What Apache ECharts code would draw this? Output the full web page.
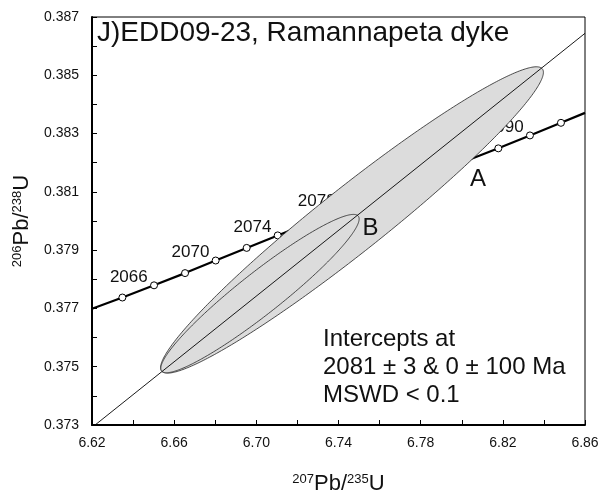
<!DOCTYPE html>
<html><head><meta charset="utf-8">
<script src="https://cdn.jsdelivr.net/npm/echarts@6/dist/echarts.min.js"></script>
<style>html,body{margin:0;padding:0;background:#fff}#c{width:609px;height:500px}</style>
</head><body><div id="c"></div>
<script>
// ---- data ----
const xTicks = [6.62, 6.66, 6.70, 6.74, 6.78, 6.82, 6.86];
const yTicks = [0.373, 0.375, 0.377, 0.379, 0.381, 0.383, 0.385, 0.387];

// concordia curve points (age in Ma; null = curve continuing to frame edge)
const concordiaAges = [null, 2064, 2066, 2068, 2070, 2072, 2074, 2078, 2088, 2090, 2092, null];
const concordiaX    = [6.6200, 6.6348, 6.6502, 6.6653, 6.6802, 6.6953, 6.7104, 6.7417, 6.8178, 6.8332, 6.8483, 6.8600];
const concordiaY    = [0.37699, 0.377374, 0.377793, 0.378212, 0.378644, 0.379077, 0.379506, 0.380395, 0.382493, 0.382936, 0.383369, 0.38371];
const labeledAges   = [2066, 2070, 2074, 2078, 2090];

// discordia (regression line) end points
const discordiaX = [6.6215, 6.8600];
const discordiaY = [0.3730, 0.38644];

// error ellipses: centre, half-widths, correlation
const ellipseNames = ['A', 'B'];
const ellipseX   = [6.74657, 6.70178];
const ellipseSX  = [0.09318, 0.04827];
const ellipseY   = [0.380036, 0.37751];
const ellipseSY  = [0.005256, 0.002716];
const ellipseRho = [0.9634, 0.9427];

const titleText = 'J)EDD09-23, Ramannapeta dyke';
const interceptLines = ['Intercepts at', '2081 \u00b1 3 & 0 \u00b1 100 Ma', 'MSWD < 0.1'];

// ---- chart ----
const FONT = 'Liberation Sans, Arial, sans-serif';
const TXT = '#111';
const chart = echarts.init(document.getElementById('c'), null, {renderer: 'canvas'});

const concData = concordiaAges.map((age, i) => ({
  value: [concordiaX[i], concordiaY[i]],
  name: age == null ? '' : String(age),
  symbol: age == null ? 'none' : 'circle',
  label: {show: labeledAges.includes(age)}
}));

function axisCommon(ticks, digits, margin) {
  return {
    type: 'value',
    min: ticks[0],
    max: ticks[ticks.length - 1],
    interval: +(ticks[1] - ticks[0]).toFixed(6),
    axisLine: {show: true, onZero: false, lineStyle: {color: '#000', width: 2}},
    axisTick: {show: true, inside: true, length: 5, lineStyle: {color: '#000', width: 1}},
    minorTick: {show: true, splitNumber: 2, length: 5, lineStyle: {color: '#000', width: 1}},
    splitLine: {show: false},
    minorSplitLine: {show: false},
    axisLabel: {formatter: v => v.toFixed(digits), margin: margin, fontSize: 14,
      fontFamily: FONT, color: TXT, hideOverlap: false, showMinLabel: true, showMaxLabel: true},
    nameLocation: 'middle'
  };
}

const richName = {
  m: {fontSize: 22, fontFamily: FONT, color: TXT, lineHeight: 22},
  s: {fontSize: 13, fontFamily: FONT, color: TXT, verticalAlign: 'top', lineHeight: 13}
};

const option = {
  animation: false,
  backgroundColor: '#fff',
  grid: {left: 92, right: 24, top: 17, bottom: 72, show: true, borderColor: '#000', borderWidth: 1},
  xAxis: Object.assign(axisCommon(xTicks, 2, 11), {
    name: '{s|207}{m|Pb/}{s|235}{m|U}', nameGap: 48,
    nameTextStyle: {rich: richName}
  }),
  yAxis: Object.assign(axisCommon(yTicks, 3, 13), {
    name: '{s|206}{m|Pb/}{s|238}{m|U}', nameGap: 58, nameRotate: 90,
    nameTextStyle: {rich: richName}
  }),
  series: [
    {
      type: 'line', z: 2, data: concData,
      symbolSize: 7,
      itemStyle: {color: '#fff', borderColor: '#000', borderWidth: 1},
      lineStyle: {color: '#000', width: 2.2},
      label: {position: [-2.3, -4.1], align: 'right', verticalAlign: 'middle',
        formatter: p => p.name, fontSize: 17, fontFamily: FONT, color: TXT},
      emphasis: {disabled: true}, silent: true
    },
    {
      type: 'custom', z: 3, silent: true,
      data: ellipseNames.map((n, i) => [i]),
      renderItem: function (params, api) {
        const i = params.dataIndex;
        const pts = [];
        const k = Math.sqrt(1 - ellipseRho[i] * ellipseRho[i]);
        for (let j = 0; j < 360; j++) {
          const t = j / 360 * Math.PI * 2;
          const dx = ellipseSX[i] * Math.cos(t);
          const dy = ellipseSY[i] * (ellipseRho[i] * Math.cos(t) + k * Math.sin(t));
          pts.push(api.coord([ellipseX[i] + dx, ellipseY[i] + dy]));
        }
        return {type: 'polygon', shape: {points: pts},
          style: {fill: '#dcdcdc', stroke: '#222', lineWidth: 0.8}};
      }
    },
    {
      type: 'line', z: 4, silent: true, symbol: 'none',
      data: discordiaX.map((x, i) => [x, discordiaY[i]]),
      lineStyle: {color: '#000', width: 0.9}
    }
  ],
  graphic: [
    {type: 'text', x: 97, y: 33.5, z: 10,
      style: {text: titleText, font: '28px ' + FONT, fill: TXT, align: 'left', verticalAlign: 'middle'}},
    {type: 'text', x: 478, y: 179, z: 10,
      style: {text: ellipseNames[0], font: '24px ' + FONT, fill: TXT, align: 'center', verticalAlign: 'middle'}},
    {type: 'text', x: 370.5, y: 228.5, z: 10,
      style: {text: ellipseNames[1], font: '24px ' + FONT, fill: TXT, align: 'center', verticalAlign: 'middle'}},
    {type: 'text', x: 323, y: 367, z: 10,
      style: {text: interceptLines.join('\n'), font: '24px ' + FONT, lineHeight: 28, fill: TXT, align: 'left', verticalAlign: 'middle'}}
  ]
};
chart.setOption(option);
</script></body></html>
